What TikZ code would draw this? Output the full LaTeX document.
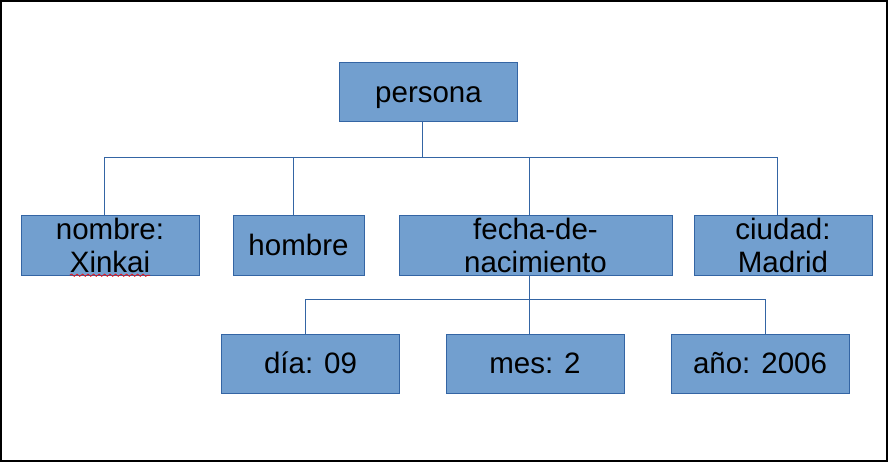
\documentclass[tikz,border=0pt]{standalone}
\usepackage{fontspec}
\setmainfont{Liberation Sans}
\usetikzlibrary{decorations.pathmorphing}
\definecolor{boxfill}{HTML}{729FCF}
\definecolor{boxline}{HTML}{3465A4}
\begin{document}
\begin{tikzpicture}[x=1pt,y=-1pt,
  box/.style={draw=boxline, fill=boxfill, line width=1pt, minimum height=59pt,
    inner sep=0pt, outer sep=0pt, font=\fontsize{29.5}{33}\selectfont,
    text height=26.7pt, text depth=6.25pt},
  txt/.style={inner sep=0pt, outer sep=0pt, anchor=base, font=\fontsize{29.5}{33}\selectfont},
  conn/.style={draw=boxline, line width=0.9pt},
  squiggle/.style={draw=red, line width=0.6pt, decorate,
    decoration={snake, amplitude=1.2pt, segment length=5.5pt}}]
\useasboundingbox (0,0) rectangle (888,462);
\draw[line width=2.2pt] (1.1,1.1) rectangle (886.6,460.9);

% boxes
\node[box, minimum width=178pt] (persona) at (428.5,92.5) {persona};
\node[box, minimum width=178pt] (nombre) at (110,245.5) {};
\node[txt] (nombre-a) at ([yshift=6.3pt]nombre.center) {nombre:};
\node[txt] (nombre-b) at ([yshift=-26.7pt]nombre.center) {Xinkai};
\node[box, minimum width=131pt] (hombre) at (298.5,245.5) {hombre};
\node[box, minimum width=273pt] (fecha) at (535.5,245.5) {};
\node[txt] (fecha-a) at ([yshift=6.3pt]fecha.center) {fecha-de-};
\node[txt] (fecha-b) at ([yshift=-26.7pt]fecha.center) {nacimiento};
\node[box, minimum width=178pt] (ciudad) at (783,245.5) {};
\node[txt] (ciudad-a) at ([yshift=6.3pt]ciudad.center) {ciudad:};
\node[txt] (ciudad-b) at ([yshift=-26.7pt]ciudad.center) {Madrid};
\node[box, minimum width=178pt] (dia) at (310.5,363.5) {día: 09};
\node[box, minimum width=178pt] (mes) at (535,363.5) {mes: 2};
\node[box, minimum width=178pt] (anio) at (760,363.5) {año: 2006};

% spell-check underline
\draw[squiggle] ([yshift=-3pt]nombre-b.base west) -- ([yshift=-3pt]nombre-b.base east);

% junctions
\coordinate (jp) at (422,157);
\coordinate (jn) at (104,157);
\coordinate (jh) at (293,157);
\coordinate (jf) at (529,157);
\coordinate (jc) at (777,157);
\coordinate (kd) at (305,299);
\coordinate (km) at (529,299);
\coordinate (ka) at (765,299);

% connectors, first level
\draw[conn] (persona.south -| jp) -- (jp);
\draw[conn] (jn) -- (jc);
\draw[conn] (jn) -- (nombre.north -| jn);
\draw[conn] (jh) -- (hombre.north -| jh);
\draw[conn] (jf) -- (fecha.north -| jf);
\draw[conn] (jc) -- (ciudad.north -| jc);

% connectors, second level
\draw[conn] (fecha.south -| km) -- (km);
\draw[conn] (kd) -- (ka);
\draw[conn] (kd) -- (dia.north -| kd);
\draw[conn] (km) -- (mes.north -| km);
\draw[conn] (ka) -- (anio.north -| ka);
\end{tikzpicture}
\end{document}
